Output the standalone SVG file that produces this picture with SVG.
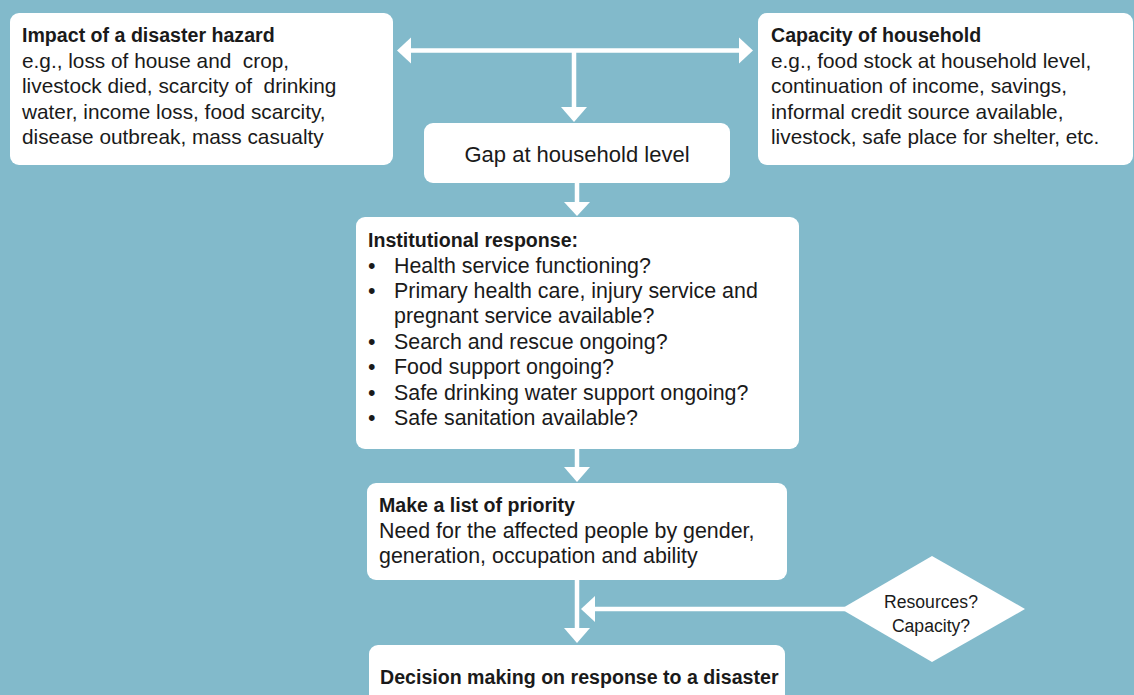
<svg xmlns="http://www.w3.org/2000/svg" width="1134" height="695" viewBox="0 0 1134 695">
<defs>
<style>
.box{fill:#ffffff;}
.t{font-family:"Liberation Sans",Arial,sans-serif;font-size:20.8px;fill:#1a1a1a;white-space:pre;}
.m{font-size:21.4px;}
.b{font-weight:bold;font-size:19.6px;}
.ln{stroke:#ffffff;stroke-width:4.5;fill:none;}
.ah{fill:#ffffff;}
</style>
</defs>
<rect width="1134" height="695" fill="#82BACB"/>
<g id="connectors">
<line class="ln" x1="410" y1="50.5" x2="740" y2="50.5"/>
<polygon class="ah" points="397,50.5 411,37.5 411,63.5"/>
<polygon class="ah" points="753,50.5 739,37.5 739,63.5"/>
<line class="ln" x1="574" y1="50.5" x2="574" y2="108"/>
<polygon class="ah" points="574,122 561,107 587,107"/>
<line class="ln" x1="577" y1="183" x2="577" y2="203"/>
<polygon class="ah" points="577,216 564,202 590,202"/>
<line class="ln" x1="577" y1="449" x2="577" y2="468"/>
<polygon class="ah" points="577,482 564,467 590,467"/>
<line class="ln" x1="577" y1="580" x2="577" y2="629"/>
<polygon class="ah" points="577,643 564,628 590,628"/>
<line class="ln" x1="594" y1="609" x2="845" y2="609"/>
<polygon class="ah" points="581,609 595,596 595,622"/>
</g>
<g id="impact">
<rect class="box" x="10" y="13" width="383" height="152" rx="9"/>
<text class="t" xml:space="preserve"><tspan class="b" x="22" y="42">Impact of a disaster hazard</tspan><tspan x="22" y="67.5">e.g., loss of house and  crop,</tspan><tspan x="22" y="93">livestock died, scarcity of  drinking</tspan><tspan x="22" y="118.5">water, income loss, food scarcity,</tspan><tspan x="22" y="144">disease outbreak, mass casualty</tspan></text>
</g>
<g id="capacity">
<rect class="box" x="758" y="13" width="375" height="152" rx="9"/>
<text class="t"><tspan class="b" x="771" y="42">Capacity of household</tspan><tspan x="771" y="67.5">e.g., food stock at household level,</tspan><tspan x="771" y="93">continuation of income, savings,</tspan><tspan x="771" y="118.5">informal credit source available,</tspan><tspan x="771" y="144">livestock, safe place for shelter, etc.</tspan></text>
</g>
<g id="gap">
<rect class="box" x="424" y="123" width="306" height="60" rx="9"/>
<text class="t" x="577" y="162" text-anchor="middle" style="font-size:22px">Gap at household level</text>
</g>
<g id="institutional">
<rect class="box" x="356" y="217" width="443" height="232" rx="9"/>
<text class="t"><tspan class="b" x="368" y="247">Institutional response:</tspan></text>
<text class="t m"><tspan x="368" y="273">•</tspan><tspan x="368" y="298">•</tspan><tspan x="368" y="349">•</tspan><tspan x="368" y="374">•</tspan><tspan x="368" y="400">•</tspan><tspan x="368" y="425">•</tspan></text>
<text class="t m"><tspan x="394" y="273">Health service functioning?</tspan><tspan x="394" y="298">Primary health care, injury service and</tspan><tspan x="394" y="323">pregnant service available?</tspan><tspan x="394" y="349">Search and rescue ongoing?</tspan><tspan x="394" y="374">Food support ongoing?</tspan><tspan x="394" y="400">Safe drinking water support ongoing?</tspan><tspan x="394" y="425">Safe sanitation available?</tspan></text>
</g>
<g id="priority">
<rect class="box" x="367" y="483" width="420" height="97" rx="9"/>
<text class="t"><tspan class="b" x="379" y="512">Make a list of priority</tspan></text>
<text class="t m"><tspan x="379" y="537.5">Need for the affected people by gender,</tspan><tspan x="379" y="563">generation, occupation and ability</tspan></text>
</g>
<g id="resources">
<polygon class="box" points="841,609 932,556 1025,609 932,662"/>
<text class="t" style="font-size:17.6px" text-anchor="middle"><tspan x="931" y="608">Resources?</tspan><tspan x="931" y="632">Capacity?</tspan></text>
</g>
<g id="decision">
<rect class="box" x="369" y="645" width="416" height="70" rx="9"/>
<text class="t"><tspan class="b" x="380" y="684">Decision making on response to a disaster</tspan></text>
</g>
</svg>
